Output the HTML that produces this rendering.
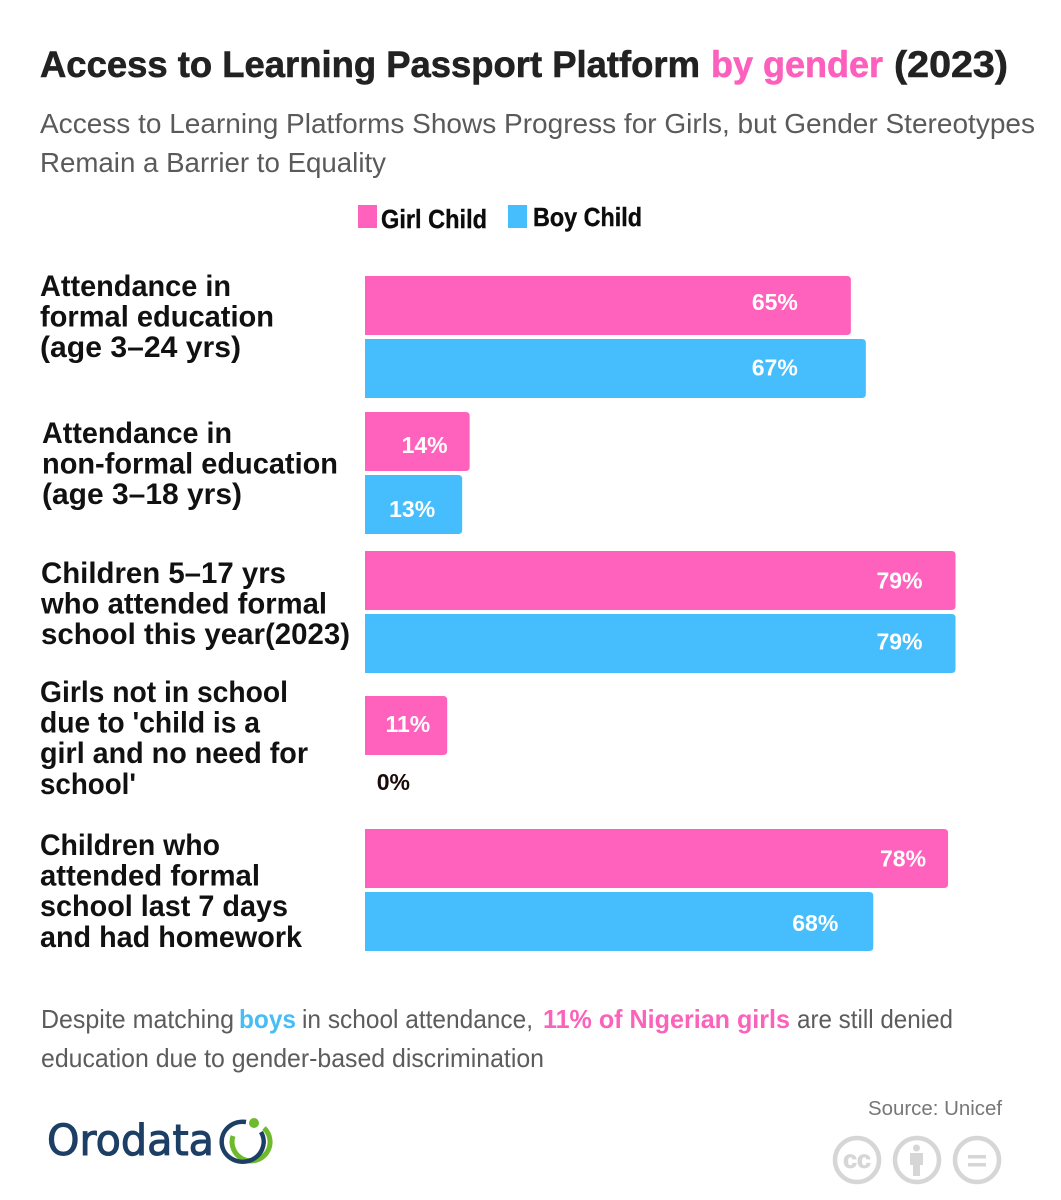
<!DOCTYPE html>
<html lang="en">
<head>
<meta charset="utf-8">
<title>Access to Learning Passport Platform by gender (2023)</title>
<style>
  html, body { margin: 0; padding: 0; background: #fff; }
  body { width: 1061px; height: 1200px; overflow: hidden; }
  svg { display: block; font-family: "Liberation Sans", Arial, sans-serif; }
</style>
</head>
<body>
<svg id="chart" xmlns="http://www.w3.org/2000/svg" width="1061" height="1200" viewBox="0 0 1061 1200">
  <rect width="1061" height="1200" fill="#ffffff"/>

  <g font-size="37" font-weight="700" fill="#222222" stroke-width="0.6">
    <text x="40" y="77" stroke="#222222" textLength="660" lengthAdjust="spacingAndGlyphs">Access to Learning Passport Platform</text>
    <text x="711" y="77" fill="#fd5fbd" stroke="#fd5fbd" textLength="172" lengthAdjust="spacingAndGlyphs">by gender</text>
    <text x="894" y="77" stroke="#222222" textLength="114" lengthAdjust="spacingAndGlyphs">(2023)</text>
  </g>

  <g font-size="28" fill="#5a5a5a">
    <text x="40" y="133" textLength="995" lengthAdjust="spacingAndGlyphs">Access to Learning Platforms Shows Progress for Girls, but Gender Stereotypes</text>
    <text x="40" y="172" textLength="346" lengthAdjust="spacingAndGlyphs">Remain a Barrier to Equality</text>
  </g>

  <g font-size="26" font-weight="700" fill="#0c0c0c" stroke="#0c0c0c" stroke-width="0.4">
    <rect x="358" y="205" width="19" height="23" fill="#ff62bc" stroke="none"/>
    <text x="381" y="228" textLength="106" lengthAdjust="spacingAndGlyphs">Girl Child</text>
    <rect x="508" y="205" width="19" height="23" fill="#46bdfc" stroke="none"/>
    <text x="533" y="226" textLength="109" lengthAdjust="spacingAndGlyphs">Boy Child</text>
  </g>

  <g id="category-labels"></g>
  <g id="bars"></g>
  <g id="value-labels"></g>

  <g font-size="26" fill="#5c5c5c">
    <text x="41" y="1028" textLength="193" lengthAdjust="spacingAndGlyphs">Despite matching</text>
    <text x="239" y="1028" font-weight="700" fill="#46bdf5" textLength="57" lengthAdjust="spacingAndGlyphs">boys</text>
    <text x="302" y="1028" textLength="231" lengthAdjust="spacingAndGlyphs">in school attendance,</text>
    <text x="543" y="1028" font-weight="700" fill="#fb62bb" textLength="247" lengthAdjust="spacingAndGlyphs">11% of Nigerian girls</text>
    <text x="797" y="1028" textLength="156" lengthAdjust="spacingAndGlyphs">are still denied</text>
    <text x="41" y="1067" textLength="503" lengthAdjust="spacingAndGlyphs">education due to gender-based discrimination</text>
  </g>

  <g>
    <text x="47" y="1155" font-family="'DejaVu Sans', 'Liberation Sans', sans-serif" font-size="42.500" fill="#1d3f66" stroke="#1d3f66" stroke-width="1" textLength="167" lengthAdjust="spacingAndGlyphs">Orodata</text>
    <path d="M264 1128 A19 19 0 1 1 233 1136" fill="none" stroke="#6dbb2c" stroke-width="5"/>
    <path d="M246 1122 A21 20 0 1 0 261 1132" fill="none" stroke="#1d3f66" stroke-width="4.500"/>
    <circle cx="254" cy="1123" r="5" fill="#6dbb2c"/>
  </g>

  <text x="868" y="1115" font-size="20" fill="#777777" textLength="134" lengthAdjust="spacingAndGlyphs">Source: Unicef</text>

  <g fill="none" stroke="#d6d6d6" stroke-width="4.500">
    <g>
      <circle cx="857" cy="1160" r="22"/>
      <text x="857" y="1168" font-size="25" font-weight="700" fill="#d6d6d6" stroke="#d6d6d6" stroke-width="0.8" text-anchor="middle">cc</text>
    </g>
    <g>
      <circle cx="917" cy="1160" r="22"/>
      <circle cx="916.500" cy="1148" r="3.500" fill="#d6d6d6" stroke="none"/>
      <path d="M910 1153 H923 V1165 H920 V1176 H913 V1165 H910 Z" fill="#d6d6d6" stroke="none"/>
    </g>
    <g>
      <circle cx="977" cy="1160" r="22"/>
      <rect x="968" y="1155" width="18" height="3.500" fill="#d6d6d6" stroke="none"/>
      <rect x="968" y="1163" width="18" height="3.500" fill="#d6d6d6" stroke="none"/>
    </g>
  </g>
</svg>

<script>
// ---- Chart data ----
const categories = [
  ["Attendance in", "formal education", "(age 3\u201324 yrs)"],
  ["Attendance in", "non-formal education", "(age 3\u201318 yrs)"],
  ["Children 5\u201317 yrs", "who attended formal", "school this year(2023)"],
  ["Girls not in school", "due to 'child is a", "girl and no need for", "school'"],
  ["Children who", "attended formal", "school last 7 days", "and had homework"]
];
const girlValues = [65, 14, 79, 11, 78];
const boyValues = [67, 13, 79, 0, 68];

// ---- Layout (separate from data) ----
const plotLeft = 365;
const pxPerPercent = 7.475;
const barHeight = 59;
const boyBarOffset = 63;
const rowStart = 276;
const rowStep = 138.25;
const rowNudge = [0, -2.25, -1.5, 5.25, 0];
const labelLeft = [40, 42, 41, 40, 40];
const labelFirstBaseline = [296, 443, 583, 702, 855];
const labelLeading = 30.6;
const labelFits = [
  [191, 234, 201],
  [190, 296, 200],
  [245, 286, 309],
  [248, 220, 268, 96],
  [180, 220, 248, 262]
];
const girlInset = [53, 22, 33, 17, 22];
const boyInset = [68, 27, 33, -45, 35];
const girlValueShift = [-3.5, 3.5, 0, -1.5, 0];
const boyValueShift = [-1, 4.5, -2, -6.5, 1.5];

const SVG_NS = "http://www.w3.org/2000/svg";
const xScale = function (value) { return plotLeft + value * pxPerPercent; };
const rowTop = function (i) { return rowStart + i * rowStep + rowNudge[i]; };
const barPath = function (top, value) {
  const right = xScale(value);
  const r = Math.min(4, right - plotLeft);
  return "M" + plotLeft + " " + top +
    " H" + (right - r) +
    " Q" + right + " " + top + " " + right + " " + (top + r) +
    " V" + (top + barHeight - r) +
    " Q" + right + " " + (top + barHeight) + " " + (right - r) + " " + (top + barHeight) +
    " H" + plotLeft + " Z";
};

const labelGroup = document.getElementById("category-labels");
const barGroup = document.getElementById("bars");
const valueGroup = document.getElementById("value-labels");

categories.forEach(function (lines, i) {
  lines.forEach(function (line, j) {
    const el = document.createElementNS(SVG_NS, "text");
    
    
    el.setAttribute("x", labelLeft[i]);
    el.setAttribute("y", labelFirstBaseline[i] + j * labelLeading);
    el.setAttribute("font-size", "30");
    el.setAttribute("font-weight", "700");
    el.setAttribute("fill", "#111111");
    el.setAttribute("textLength", labelFits[i][j]);
    el.setAttribute("lengthAdjust", "spacingAndGlyphs");
    el.textContent = line;
    labelGroup.appendChild(el);
  });
});

girlValues.forEach(function (value, i) {
  const top = rowTop(i);
  const bar = document.createElementNS(SVG_NS, "path");
  
  
  bar.setAttribute("d", barPath(top, value));
  bar.setAttribute("fill", "#ff62bc");
  barGroup.appendChild(bar);

  const text = document.createElementNS(SVG_NS, "text");
  
  
  text.setAttribute("x", xScale(value) - girlInset[i]);
  text.setAttribute("y", top + barHeight / 2 + 8 + girlValueShift[i]);
  text.setAttribute("text-anchor", "end");
  text.setAttribute("font-size", "23");
  text.setAttribute("font-weight", "700");
  text.setAttribute("fill", value > 0 ? "#ffffff" : "#1a0a0a");
  text.textContent = value + "%";
  valueGroup.appendChild(text);
});

boyValues.forEach(function (value, i) {
  const top = rowTop(i) + boyBarOffset;
  const bar = document.createElementNS(SVG_NS, "path");
  
  
  bar.setAttribute("d", barPath(top, value));
  bar.setAttribute("fill", "#46bdfc");
  barGroup.appendChild(bar);

  const text = document.createElementNS(SVG_NS, "text");
  
  
  text.setAttribute("x", xScale(value) - boyInset[i]);
  text.setAttribute("y", top + barHeight / 2 + 8 + boyValueShift[i]);
  text.setAttribute("text-anchor", "end");
  text.setAttribute("font-size", "23");
  text.setAttribute("font-weight", "700");
  text.setAttribute("fill", value > 0 ? "#ffffff" : "#1a0a0a");
  text.textContent = value + "%";
  valueGroup.appendChild(text);
});
</script>
</body>
</html>
